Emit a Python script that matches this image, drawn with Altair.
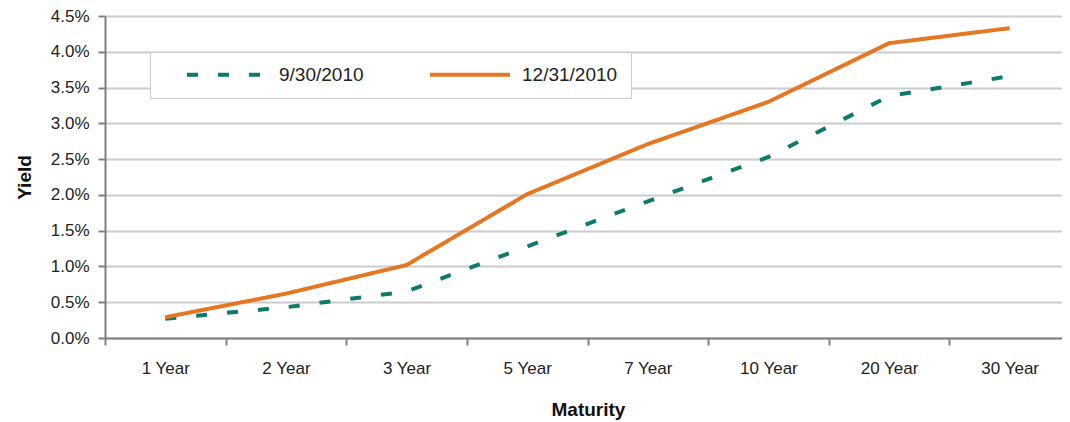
import altair as alt
import pandas as pd

maturity = ["1 Year", "2 Year", "3 Year", "5 Year", "7 Year", "10 Year", "20 Year", "30 Year"]
series_names = ["9/30/2010", "12/31/2010"]
yield_sep = [0.27, 0.43, 0.65, 1.28, 1.91, 2.53, 3.38, 3.66]
yield_dec = [0.29, 0.62, 1.02, 2.01, 2.71, 3.30, 4.12, 4.33]
y_ticks = [0.0, 0.5, 1.0, 1.5, 2.0, 2.5, 3.0, 3.5, 4.0, 4.5]

colors = ["#0E7A6B", "#E57722"]
dashes = [[11, 20], [1, 0]]

rows = []
for m, v in zip(maturity, yield_sep):
    rows.append({"Maturity": m, "Series": series_names[0], "Yield": v / 100})
for m, v in zip(maturity, yield_dec):
    rows.append({"Maturity": m, "Series": series_names[1], "Yield": v / 100})
df = pd.DataFrame(rows)

FONT = "Liberation Sans, Arial, sans-serif"

legend = alt.Legend(
    title=None,
    orient="none",
    legendX=45,
    legendY=36,
    direction="horizontal",
    symbolType="stroke",
    symbolSize=6400,
    symbolStrokeWidth=4,
    symbolOffset=22,
    clipHeight=19,
    labelFont=FONT,
    labelFontSize=19,
    labelColor="#222222",
    labelOffset=10,
    columnPadding=42,
    padding=13,
    strokeColor="#cccccc",
    fillColor="#ffffff",
)

chart = alt.Chart(df).mark_line(strokeWidth=4, strokeCap="butt").encode(
    x=alt.X(
        "Maturity:N",
        sort=maturity,
        scale=alt.Scale(paddingInner=0, paddingOuter=0, range=[0, 965]),
        axis=alt.Axis(
            title="Maturity",
            tickBand="extent",
            labelAngle=0,
            tickSize=7,
            tickWidth=2,
            tickColor="#808080",
            domainColor="#808080",
            domainWidth=2,
            labelPadding=15,
            titlePadding=24,
            titleX=483,
            grid=False,
        ),
    ),
    y=alt.Y(
        "Yield:Q",
        scale=alt.Scale(domain=[0, 0.045], nice=False),
        axis=alt.Axis(
            title="Yield",
            values=[t / 100 for t in y_ticks],
            format=".1%",
            tickSize=7,
            tickWidth=2,
            tickColor="#808080",
            domainColor="#808080",
            domainWidth=2,
            gridColor="#cccccc",
            gridWidth=2,
            labelPadding=9,
            titlePadding=16,
        ),
    ),
    color=alt.Color("Series:N", sort=series_names,
                    scale=alt.Scale(domain=series_names, range=colors), legend=legend),
    strokeDash=alt.StrokeDash("Series:N", sort=series_names,
                              scale=alt.Scale(domain=series_names, range=dashes), legend=legend),
).properties(
    width=957,
    height=322,
    autosize=alt.AutoSizeParams(type="none"),
    padding={"left": 97, "top": 8, "right": 0, "bottom": 84},
).configure_view(
    stroke=None
).configure_axis(
    labelFont=FONT,
    labelFontSize=17,
    labelColor="#222222",
    titleFont=FONT,
    titleFontSize=19,
    titleFontWeight="bold",
    titleColor="#111111",
)

chart.save("out.html", embed_options={"renderer": "svg", "actions": False})
